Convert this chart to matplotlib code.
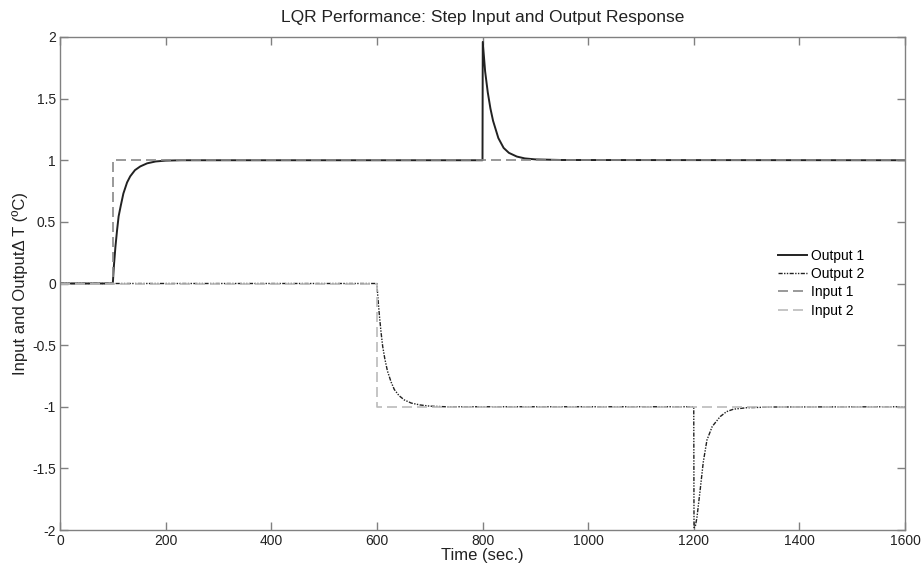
import matplotlib
matplotlib.use("Agg")
import matplotlib.pyplot as plt

# values
out1_t = [0, 100, 102, 105, 108, 111, 115, 120, 127, 133, 142, 152, 165, 181, 200, 230,
          800, 800.5, 805, 810, 815, 820, 830, 840, 850, 865, 880, 900, 950, 1600]
out1_y = [0, 0, 0.14, 0.30, 0.43, 0.545, 0.63, 0.73, 0.82, 0.87, 0.92, 0.95, 0.975, 0.99, 0.997, 1.0,
          1.0, 1.96, 1.72, 1.55, 1.42, 1.32, 1.18, 1.10, 1.06, 1.03, 1.015, 1.007, 1.002, 1.0]

out2_t = [0, 600, 602, 605, 608, 611, 615, 620, 627, 633, 642, 652, 665, 681, 700, 730,
          1200, 1200.5, 1203, 1206, 1212, 1218, 1225, 1235, 1250, 1262, 1275, 1300, 1350, 1600]
out2_y = [0, 0, -0.12, -0.27, -0.40, -0.51, -0.61, -0.71, -0.80, -0.86, -0.91, -0.945, -0.97, -0.985, -0.995, -1.0,
          -1.0, -1.98, -1.97, -1.9, -1.68, -1.45, -1.27, -1.16, -1.08, -1.04, -1.02, -1.008, -1.002, -1.0]

in1_t = [0, 100, 100, 1600]
in1_y = [0, 0, 1, 1]
in2_t = [0, 600, 600, 1600]
in2_y = [0, 0, -1, -1]

x_ticks = [0, 200, 400, 600, 800, 1000, 1200, 1400, 1600]
y_ticks = [-2, -1.5, -1, -0.5, 0, 0.5, 1, 1.5, 2]
y_ticklabels = ['-2', '-1.5', '-1', '-0.5', '0', '0.5', '1', '1.5', '2']

plt.rcParams['font.family'] = ['Liberation Sans', 'DejaVu Sans']
plt.rcParams['font.size'] = 10
plt.rcParams['axes.unicode_minus'] = False

fig = plt.figure(figsize=(9.21, 5.69), dpi=100)
ax = fig.add_axes([60 / 921, 1 - 530 / 569, 845 / 921, 493 / 569])

ax.plot(out1_t, out1_y, color='#222222', lw=1.4, label='Output 1')
ax.plot(out2_t, out2_y, color='#222222', lw=1.0, linestyle=(0, (3, 1, 1, 1, 1, 1)), label='Output 2')
ax.plot(in1_t, in1_y, color='#888888', lw=1.2, linestyle=(0, (6, 3)), label='Input 1')
ax.plot(in2_t, in2_y, color='#bbbbbb', lw=1.2, linestyle=(0, (6, 3)), label='Input 2')

ax.set_xlim(0, 1600)
ax.set_ylim(-2, 2)
ax.set_xticks(x_ticks)
ax.set_yticks(y_ticks)
ax.set_yticklabels(y_ticklabels)
ax.tick_params(direction='in', length=6, width=1, color='#808080', top=True, right=True,
               labelcolor='#222222', pad=3)
for s in ax.spines.values():
    s.set_color('#808080')
    s.set_linewidth(1)

ax.set_title('LQR Performance: Step Input and Output Response', color='#222222', fontsize=12.5, pad=11)
ax.set_xlabel('Time (sec.)', color='#222222', fontsize=12, labelpad=0)
ax.set_ylabel('Input and OutputΔ T (ºC)', color='#222222', fontsize=12, labelpad=3)

ax.legend(loc='upper left', bbox_to_anchor=(778 / 921, 1 - 249 / 569), bbox_transform=fig.transFigure,
          frameon=False, borderpad=0, borderaxespad=0, handlelength=2.1, handletextpad=0.3,
          labelspacing=0.3)

fig.savefig('out.png', dpi=100)
